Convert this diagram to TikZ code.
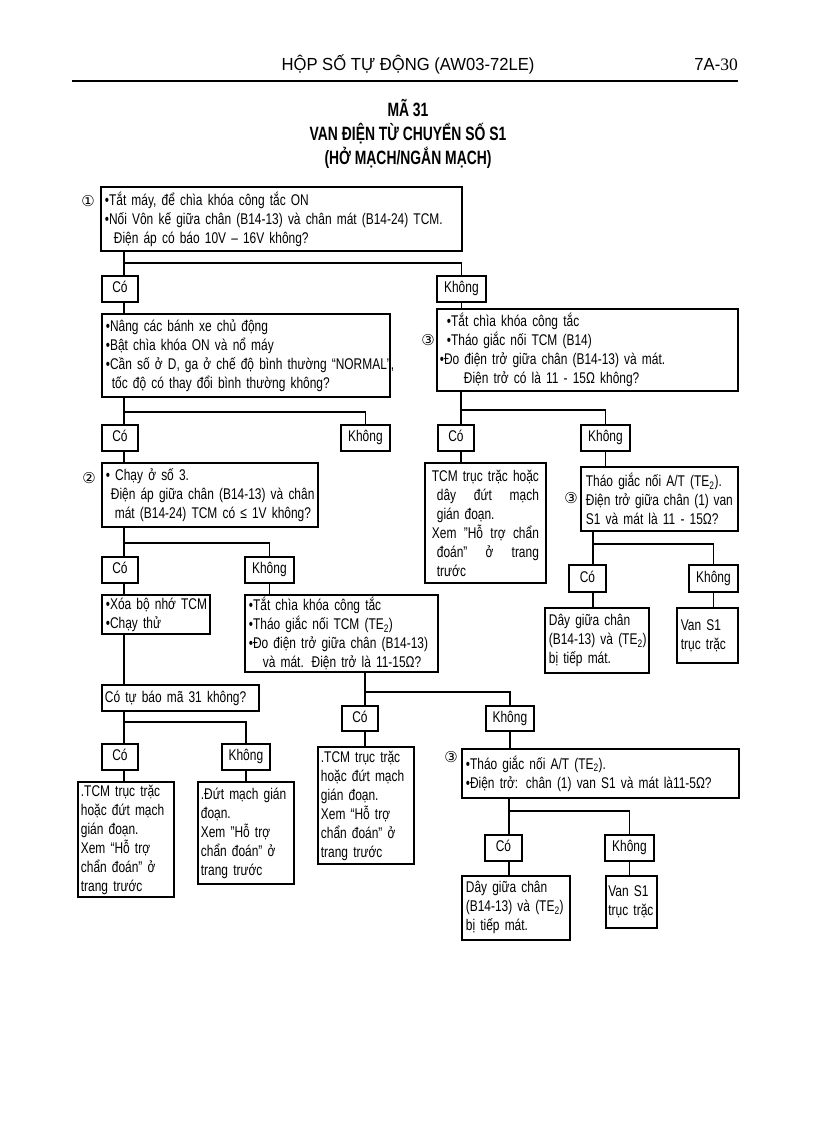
\documentclass[tikz,border=0pt]{standalone}
\usepackage{fontspec}
\setmainfont[FakeStretch=0.77]{Liberation Sans}
\newfontfamily\hdrfont[FakeStretch=0.95]{Liberation Sans}
\newfontfamily\ttlfont[FakeStretch=0.72]{Liberation Sans}
\newfontfamily\serfont{Liberation Serif}
\newfontfamily\circfont{DejaVu Sans}
\begin{document}
\begin{tikzpicture}[x=1pt,y=-1pt,
  box/.style={draw, line width=1.8pt, anchor=north west, inner xsep=4pt, inner ysep=0pt,
    align=left, font=\fontsize{15.5}{19}\selectfont},
  lbl/.style={draw, line width=1.8pt, anchor=north west, inner sep=0pt, align=center,
    text height=11pt, text depth=3.5pt, font=\fontsize{15.5}{19}\selectfont},
  conn/.style={line width=1.4pt},
  circ/.style={inner sep=0pt, font=\circfont\fontsize{15}{15}\selectfont},
  hdr/.style={anchor=base, inner sep=0pt, font=\hdrfont\fontsize{17.5}{20}\selectfont},
  ttl/.style={anchor=base, inner sep=0pt, font=\ttlfont\bfseries\fontsize{19.3}{22}\selectfont}]
\useasboundingbox (0,0) rectangle (816,1123);

% header
\node[hdr] (hd) at (408,71) {HỘP SỐ TỰ ĐỘNG (AW03-72LE)};
\node[hdr, anchor=base east] (pg) at (738,71) {7A-{\serfont 30}};
\draw[line width=2pt] (72,81.5) -- (738,81.5);
\node[ttl] (t1) at (408,117) {MÃ 31};
\node[ttl] (t2) at (408,141) {VAN ĐIỆN TỪ CHUYỂN SỐ S1};
\node[ttl] (t3) at (408,165) {(HỞ MẠCH/NGẮN MẠCH)};

% circled numbers
\node[circ] (n1) at (88,201) {①};
\node[circ] (n2) at (89,478) {②};
\node[circ] (n3a) at (428,340) {③};
\node[circ] (n3b) at (571,498) {③};
\node[circ] (n3c) at (451,757) {③};

% boxes
\node[box, minimum width=361pt, minimum height=64pt, text width=353pt] (B1) at (100,186)
 {\mbox{•Tắt máy, để chìa khóa công tắc ON}\\
  \mbox{•Nối Vôn kế giữa chân (B14-13) và chân mát (B14-24) TCM.}\\
  \hspace*{9pt}\mbox{Điện áp có báo 10V – 16V không?}};
\node[lbl, minimum width=36pt, minimum height=26pt] (C1) at (101,275) {Có};
\node[lbl, minimum width=49pt, minimum height=26pt] (K1) at (436,275) {Không};

\node[box, minimum width=288pt, minimum height=83pt, text width=280pt] (B2) at (101,313)
 {\mbox{•Nâng các bánh xe chủ động}\\
  \mbox{•Bật chìa khóa ON và nổ máy}\\
  \mbox{•Cần số ở D, ga ở chế độ bình thường “NORMAL”,}\\
  \hspace*{6pt}\mbox{tốc độ có thay đổi bình thường không?}};
\node[box, inner xsep=3pt, minimum width=301pt, minimum height=82pt, text width=295pt] (B3) at (436,308)
 {\hspace*{7pt}\mbox{•Tắt chìa khóa công tắc}\\
  \hspace*{7pt}\mbox{•Tháo giắc nối TCM (B14)}\\
  \mbox{•Đo điện trở giữa chân (B14-13) và mát.}\\
  \hspace*{24pt}\mbox{Điện trở có là 11 - 15Ω không?}};

\node[lbl, minimum width=36pt, minimum height=26pt] (C2) at (101,424) {Có};
\node[lbl, minimum width=49pt, minimum height=26pt] (K2) at (340,424) {Không};
\node[lbl, minimum width=36pt, minimum height=26pt] (C3) at (437,424) {Có};
\node[lbl, minimum width=49pt, minimum height=26pt] (K3) at (580,424) {Không};

\node[box, minimum width=216pt, minimum height=64pt, text width=208pt] (B4) at (101,462)
 {\mbox{• Chạy ở số 3.}\\
  \hspace*{5pt}\mbox{Điện áp giữa chân (B14-13) và chân}\\
  \hspace*{9pt}\mbox{mát (B14-24) TCM có ≤ 1V không?}};
\node[box, inner xsep=7pt, minimum width=121pt, minimum height=120pt, text width=107pt] (B5) at (424,462)
 {\mbox{TCM trục trặc hoặc}\\
  \hspace*{5pt}dây\hfill đứt\hfill mạch\\
  \hspace*{5pt}\mbox{gián đoạn.}\\
  Xem\hfill "Hỗ\hfill trợ\hfill chẩn\\
  \hspace*{5pt}đoán"\hfill ở\hfill trang\\
  \hspace*{5pt}\mbox{trước}};
\node[box, inner xsep=5pt, minimum width=157pt, minimum height=64pt, text width=147pt] (B6) at (580,466)
 {\mbox{Tháo giắc nối A/T (TE\textsubscript{2}).}\\
  Điện\hfill trở\hfill giữa\hfill chân\hfill (1)\hfill van\\
  \mbox{S1 và mát là 11 - 15Ω?}};

\node[lbl, minimum width=37pt, minimum height=27pt] (C4) at (568,564) {Có};
\node[lbl, minimum width=49pt, minimum height=27pt] (K4) at (688,564) {Không};
\node[box, minimum width=104pt, minimum height=65pt, text width=96pt] (B7) at (544,607)
 {\mbox{Dây giữa chân}\\
  \mbox{(B14-13) và (TE\textsubscript{2})}\\
  \mbox{bị tiếp mát.}};
\node[box, minimum width=61pt, minimum height=55pt, text width=53pt] (B8) at (676,607)
 {\mbox{Van S1}\\ \mbox{trục trặc}};

\node[lbl, minimum width=36pt, minimum height=26pt] (C5) at (101,556) {Có};
\node[lbl, minimum width=49pt, minimum height=26pt] (K5) at (244,556) {Không};
\node[box, minimum width=108pt, minimum height=39pt, text width=100pt] (B9) at (101,594)
 {\mbox{•Xóa bộ nhớ TCM}\\ \mbox{•Chạy thử}};
\node[box, minimum width=193pt, minimum height=77pt, text width=185pt] (B10) at (244,594)
 {\mbox{•Tắt chìa khóa công tắc}\\
  \mbox{•Tháo giắc nối TCM (TE\textsubscript{2})}\\
  \mbox{•Đo điện trở giữa chân (B14-13)}\\
  \hspace*{14pt}\mbox{và mát. Điện trở là 11-15Ω?}};
\node[box, inner xsep=3pt, minimum width=157pt, minimum height=26pt, text width=151pt] (B11) at (101,684)
 {\mbox{Có tự báo mã 31 không?}};

\node[lbl, minimum width=36pt, minimum height=26pt] (C8) at (101,743) {Có};
\node[lbl, minimum width=48pt, minimum height=26pt] (K8) at (221,743) {Không};
\node[box, inner xsep=3pt, minimum width=96pt, minimum height=115pt, text width=90pt] (B12) at (77,781)
 {\mbox{.TCM trục trặc}\\ \mbox{hoặc đứt mạch}\\ \mbox{gián đoạn.}\\ \mbox{Xem “Hỗ trợ}\\ \mbox{chẩn đoán” ở}\\ \mbox{trang trước}};
\node[box, inner xsep=3pt, minimum width=96pt, minimum height=102pt, text width=90pt] (B13) at (197,781)
 {\mbox{.Đứt mạch gián}\\ \mbox{đoạn.}\\ \mbox{Xem "Hỗ trợ}\\ \mbox{chẩn đoán" ở}\\ \mbox{trang trước}};

\node[lbl, minimum width=36pt, minimum height=25pt] (C6) at (341,705) {Có};
\node[lbl, minimum width=48pt, minimum height=25pt] (K6) at (485,705) {Không};
\node[box, inner xsep=3pt, minimum width=96pt, minimum height=117pt, text width=90pt] (B14) at (317,746)
 {\mbox{.TCM trục trặc}\\ \mbox{hoặc đứt mạch}\\ \mbox{gián đoạn.}\\ \mbox{Xem “Hỗ trợ}\\ \mbox{chẩn đoán" ở}\\ \mbox{trang trước}};
\node[box, minimum width=277pt, minimum height=49pt, text width=269pt] (B15) at (461,748)
 {\mbox{•Tháo giắc nối A/T (TE\textsubscript{2}).}\\
  \mbox{•Điện trở: chân (1) van S1 và mát là11-5Ω?}};

\node[lbl, minimum width=37pt, minimum height=26pt] (C7) at (484,834) {Có};
\node[lbl, minimum width=49pt, minimum height=26pt] (K7) at (604,834) {Không};
\node[box, minimum width=108pt, minimum height=64pt, text width=100pt] (B16) at (461,875)
 {\mbox{Dây giữa chân}\\
  \mbox{(B14-13) và (TE\textsubscript{2})}\\
  \mbox{bị tiếp mát.}};
\node[box, inner xsep=2.5pt, minimum width=51pt, minimum height=52pt, text width=46pt] (B17) at (605,875)
 {\mbox{Van S1}\\ \mbox{trục trặc}};

% connectors
\coordinate (j1) at (124,263);
\draw[conn] (j1 |- B1.south) -- (j1 |- C1.north);
\draw[conn] (j1) -| (K1.north);
\draw[conn] (j1 |- C1.south) -- (j1 |- B2.north);
\draw[conn] (K1.south) -- (K1.south |- B3.north);

\coordinate (j2) at (124,412);
\draw[conn] (j2 |- B2.south) -- (j2 |- C2.north);
\draw[conn] (j2) -| (K2.north);
\draw[conn] (j2 |- C2.south) -- (j2 |- B4.north);

\coordinate (j3) at (461,410);
\draw[conn] (j3 |- B3.south) -- (j3 |- C3.north);
\draw[conn] (j3) -| (K3.north);
\draw[conn] (j3 |- C3.south) -- (j3 |- B5.north);
\draw[conn] (K3.south) -- (K3.south |- B6.north);

\coordinate (j6) at (593,544);
\draw[conn] (j6 |- B6.south) -- (j6 |- C4.north);
\draw[conn] (j6) -| (K4.north);
\draw[conn] (j6 |- C4.south) -- (j6 |- B7.north);
\draw[conn] (K4.south) -- (K4.south |- B8.north);

\coordinate (j4) at (124,543);
\draw[conn] (j4 |- B4.south) -- (j4 |- C5.north);
\draw[conn] (j4) -| (K5.north);
\draw[conn] (j4 |- C5.south) -- (j4 |- B9.north);
\draw[conn] (K5.south) -- (K5.south |- B10.north);
\draw[conn] (j4 |- B9.south) -- (j4 |- B11.north);

\coordinate (j11) at (124,722);
\draw[conn] (j11 |- B11.south) -- (j11 |- C8.north);
\draw[conn] (j11) -| (K8.north);
\draw[conn] (j11 |- C8.south) -- (j11 |- B12.north);
\draw[conn] (K8.south) -- (K8.south |- B13.north);

\coordinate (j10) at (365,692);
\draw[conn] (j10 |- B10.south) -- (j10 |- C6.north);
\draw[conn] (j10) -| (K6.north);
\draw[conn] (j10 |- C6.south) -- (j10 |- B14.north);
\draw[conn] (K6.south) -- (K6.south |- B15.north);

\coordinate (j15) at (509,811);
\draw[conn] (j15 |- B15.south) -- (j15 |- C7.north);
\draw[conn] (j15) -| (K7.north);
\draw[conn] (j15 |- C7.south) -- (j15 |- B16.north);
\draw[conn] (K7.south) -- (K7.south |- B17.north);
\end{tikzpicture}
\end{document}
